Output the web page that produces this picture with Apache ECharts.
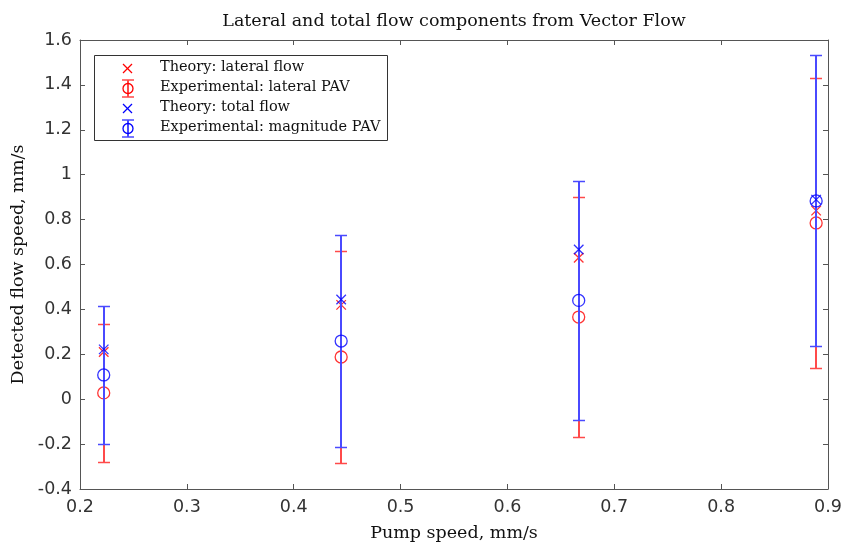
<!DOCTYPE html>
<html>
<head>
<meta charset="utf-8">
<script src="https://cdn.jsdelivr.net/npm/echarts@6/dist/echarts.min.js"></script>
<style>
html,body{margin:0;padding:0;background:#fff;}
#chart{width:843px;height:543px;}
</style>
</head>
<body>
<div id="chart"></div>
<script>
// ---- data ----
const pumpSpeed = [0.2222, 0.4444, 0.6667, 0.8889];
const theoryLateral = [0.21, 0.42, 0.63, 0.84];
const theoryTotal = [0.222, 0.444, 0.667, 0.889];
const expLateral = [0.028, 0.188, 0.366, 0.785];
const errLateral = [0.307, 0.472, 0.534, 0.646];
const expMagnitude = [0.108, 0.259, 0.44, 0.883];
const errMagnitude = [0.307, 0.472, 0.532, 0.648];
const seriesNames = ['Theory: lateral flow', 'Experimental: lateral PAV', 'Theory: total flow', 'Experimental: magnitude PAV'];
const xTicks = [0.2, 0.3, 0.4, 0.5, 0.6, 0.7, 0.8, 0.9];
const yTicks = [-0.4, -0.2, 0, 0.2, 0.4, 0.6, 0.8, 1, 1.2, 1.4, 1.6];

const RED = '#ff0000', BLUE = '#0000ff';
const RED_BAR = '#ff4a4a', BLUE_BAR = '#4a4aff';
const SERIF = '"DejaVu Serif", serif';
const SANS = '"DejaVu Sans", sans-serif';
const AXIS_COLOR = '#555';
const LW = 1.3;

const pts = (xs, ys) => xs.map((x, i) => [x, ys[i]]);
const errs = (xs, ys, es) => xs.map((x, i) => [x, ys[i] - es[i], ys[i] + es[i]]);

const xPath = 'path://M0,0L9,9M9,0L0,9';

function errRender(color) {
  return function (params, api) {
    const x = api.value(0), lo = api.value(1), hi = api.value(2);
    const t = api.coord([x, hi]);
    const b = api.coord([x, lo]);
    const cx = Math.round(t[0]);
    const ty = Math.round(t[1]) + 0.5, by = Math.round(b[1]) + 0.5;
    const cap = 6;
    const vst = () => ({ stroke: color, lineWidth: 2, fill: null });
    const cst = () => ({ stroke: color, lineWidth: 1.5, fill: null });
    return {
      type: 'group',
      children: [
        { type: 'line', shape: { x1: cx, y1: ty, x2: cx, y2: by }, style: vst() },
        { type: 'line', shape: { x1: cx - cap, y1: ty, x2: cx + cap, y2: ty }, style: cst() },
        { type: 'line', shape: { x1: cx - cap, y1: by, x2: cx + cap, y2: by }, style: cst() }
      ]
    };
  };
}

// ---- legend drawn as graphic (box, symbols, real text) ----
const legendColors = [RED, RED, BLUE, BLUE];
const legendBarColors = [RED_BAR, RED_BAR, BLUE_BAR, BLUE_BAR];
const legendKinds = ['x', 'err', 'x', 'err'];
const legendRowY = [68.5, 88.5, 108.5, 128.5];
const legendIconX = 127.5;
const legendTextX = 160;
function legendIcon(kind, color, barColor, cy) {
  const st = () => ({ stroke: color, lineWidth: LW, fill: null });
  const bst = (w) => ({ stroke: barColor, lineWidth: w, fill: null });
  if (kind === 'x') {
    return [
      { type: 'line', shape: { x1: legendIconX - 4.5, y1: cy - 4.5, x2: legendIconX + 4.5, y2: cy + 4.5 }, style: st() },
      { type: 'line', shape: { x1: legendIconX - 4.5, y1: cy + 4.5, x2: legendIconX + 4.5, y2: cy - 4.5 }, style: st() }
    ];
  }
  const ix = Math.round(legendIconX);
  return [
    { type: 'line', shape: { x1: ix, y1: cy - 8.5, x2: ix, y2: cy + 8.5 }, style: bst(2) },
    { type: 'line', shape: { x1: ix - 6, y1: cy - 8.5, x2: ix + 6, y2: cy - 8.5 }, style: bst(1.5) },
    { type: 'line', shape: { x1: ix - 6, y1: cy + 8.5, x2: ix + 6, y2: cy + 8.5 }, style: bst(1.5) },
    { type: 'circle', shape: { cx: ix, cy: cy, r: 5 }, style: st() }
  ];
}
const legendGraphic = [
  { type: 'rect', shape: { x: 94.5, y: 55.5, width: 293, height: 85 }, style: { fill: '#fff', stroke: '#333', lineWidth: 1 }, z: 10 }
];
seriesNames.forEach((name, i) => {
  legendIcon(legendKinds[i], legendColors[i], legendBarColors[i], legendRowY[i]).forEach(el => { el.z = 11; legendGraphic.push(el); });
  legendGraphic.push({
    type: 'text', x: legendTextX, y: legendRowY[i] - 1, z: 11,
    style: { text: name, fontFamily: SERIF, fontSize: 14.5, fill: '#111', verticalAlign: 'middle', align: 'left' }
  });
});

const xMin = xTicks[0], xMax = xTicks[xTicks.length - 1];
const yMin = yTicks[0], yMax = yTicks[yTicks.length - 1];

const axisCommon = {
  axisLine: { show: true, onZero: false, lineStyle: { color: AXIS_COLOR, width: 1 } },
  axisTick: { show: true, inside: true, length: 5, lineStyle: { color: AXIS_COLOR } },
  splitLine: { show: false }
};
const fmt = v => String(+v.toFixed(1));

const chart = echarts.init(document.getElementById('chart'), null, { renderer: 'canvas' });
chart.setOption({
  animation: false,
  backgroundColor: '#fff',
  title: {
    text: 'Lateral and total flow components from Vector Flow',
    left: 454, top: 12, padding: 0, textAlign: 'center',
    textStyle: { fontFamily: SERIF, fontSize: 17.5, fontWeight: 'normal', color: '#111' }
  },
  grid: { left: 80, right: 15, top: 40, bottom: 54, containLabel: false, outerBoundsMode: 'none' },
  xAxis: [
    Object.assign({}, axisCommon, {
      type: 'value', min: xMin, max: xMax, interval: 0.1, position: 'bottom',
      name: 'Pump speed, mm/s', nameLocation: 'middle', nameGap: 35,
      nameTextStyle: { fontFamily: SERIF, fontSize: 17.5, color: '#111' },
      axisLabel: { margin: 9, fontFamily: SANS, fontSize: 17.5, color: '#333', formatter: fmt }
    }),
    Object.assign({}, axisCommon, {
      type: 'value', min: xMin, max: xMax, interval: 0.1, position: 'top',
      axisLabel: { show: false }
    })
  ],
  yAxis: [
    Object.assign({}, axisCommon, {
      type: 'value', min: yMin, max: yMax, interval: 0.2, position: 'left',
      name: 'Detected flow speed, mm/s', nameLocation: 'middle', nameGap: 48,
      nameTextStyle: { fontFamily: SERIF, fontSize: 17.5, color: '#111' },
      axisLabel: { margin: 8, fontFamily: SANS, fontSize: 17.5, color: '#333', formatter: fmt }
    }),
    Object.assign({}, axisCommon, {
      type: 'value', min: yMin, max: yMax, interval: 0.2, position: 'right',
      axisLabel: { show: false }
    })
  ],
  graphic: legendGraphic,
  series: [
    {
      name: 'errLateral', type: 'custom', data: errs(pumpSpeed, expLateral, errLateral),
      encode: { x: 0, y: [1, 2] }, renderItem: errRender(RED_BAR), z: 2
    },
    {
      name: seriesNames[0], type: 'scatter', data: pts(pumpSpeed, theoryLateral),
      symbol: xPath, symbolSize: 9.5,
      itemStyle: { color: 'none', borderColor: RED, borderWidth: LW }, z: 3
    },
    {
      name: seriesNames[1], type: 'scatter', data: pts(pumpSpeed, expLateral),
      symbol: 'circle', symbolSize: 12,
      itemStyle: { color: 'none', borderColor: RED, borderWidth: LW }, z: 3
    },
    {
      name: 'errMagnitude', type: 'custom', data: errs(pumpSpeed, expMagnitude, errMagnitude),
      encode: { x: 0, y: [1, 2] }, renderItem: errRender(BLUE_BAR), z: 4
    },
    {
      name: seriesNames[2], type: 'scatter', data: pts(pumpSpeed, theoryTotal),
      symbol: xPath, symbolSize: 9.5,
      itemStyle: { color: 'none', borderColor: BLUE, borderWidth: LW }, z: 5
    },
    {
      name: seriesNames[3], type: 'scatter', data: pts(pumpSpeed, expMagnitude),
      symbol: 'circle', symbolSize: 12,
      itemStyle: { color: 'none', borderColor: BLUE, borderWidth: LW }, z: 5
    }
  ]
});
</script>
</body>
</html>
